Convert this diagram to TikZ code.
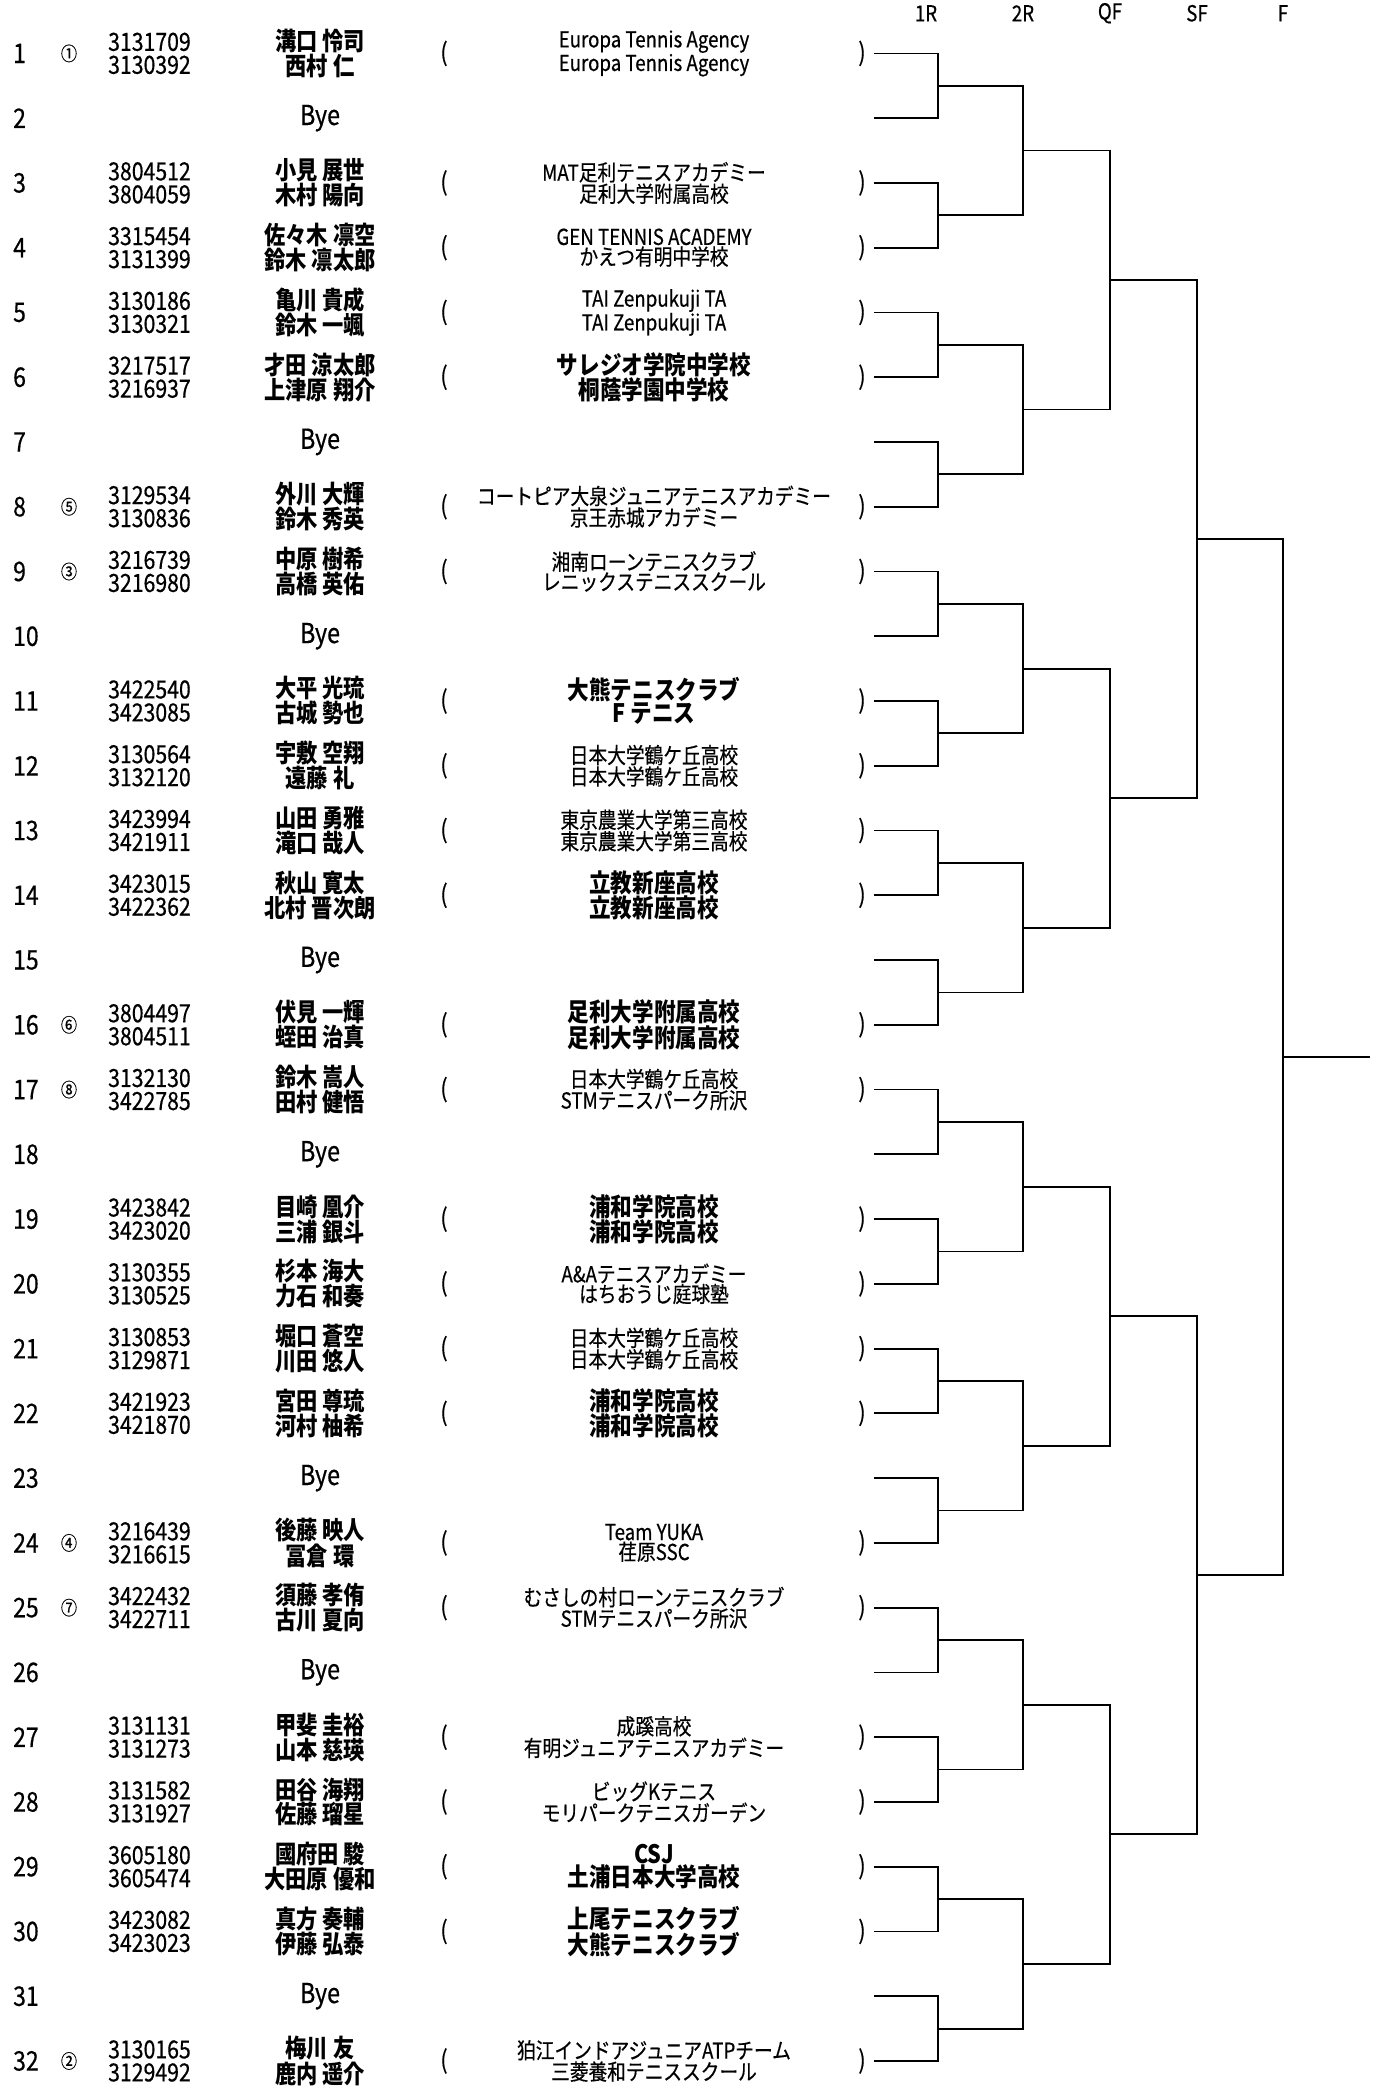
\documentclass[tikz,border=0pt]{standalone}
\usepackage{fontspec}
\setmainfont{Noto Sans CJK JP}[FakeStretch=0.85,UprightFeatures={FakeBold=0.5}]

\begin{document}
\begin{tikzpicture}[x=1pt,y=-64.76pt,
    every node/.style={inner sep=0pt},
    rownum/.style={anchor=west,font=\fontsize{27}{27}\selectfont},
    seed/.style={font=\fontsize{19}{19}\selectfont},
    ids/.style={anchor=west,align=left,font=\fontsize{25}{23}\selectfont},
    names/.style={align=center,font=\bfseries\fontsize{25}{23}\selectfont},
    bye/.style={font=\fontsize{27.5}{27}\selectfont},
    paren/.style={font=\fontsize{25}{25}\selectfont},
    club/.style={align=center,font=\fontsize{22}{20}\selectfont},
    bigclub/.style={align=center,font=\bfseries\fontsize{25.4}{23}\selectfont},
    rnd/.style={font=\fontsize{22}{22}\selectfont},
    bracket/.style={line width=1.8pt}]
    \useasboundingbox (0,0.1754) rectangle (1374,32.433);

    % round labels
    \node[rnd] (h1) at (926,0.38) {1R};
    \node[rnd] (h2) at (1023,0.38) {2R};
    \node[rnd] (h3) at (1110,0.38) {QF};
    \node[rnd] (h4) at (1197,0.38) {SF};
    \node[rnd] (h5) at (1283,0.38) {F};

    % 1
    \node[rownum] (n1) at (13,1) {1};
    \node[seed] (s1) at (69,1) {①};
    \node[ids] (id1) at (108,1) {3131709\\3130392};
    \node[names] (pl1) at (320,1) {溝口 怜司\\西村 仁};
    \node[paren] (lp1) at (444,1) {(};
    \node[club] (cl1) at (654,1) {Europa Tennis Agency\\Europa Tennis Agency};
    \node[paren] (rp1) at (862,1) {)};
    \coordinate (r1) at (874,1);
    % 2
    \node[rownum] (n2) at (13,2) {2};
    \node[bye] (bye2) at (320,2) {Bye};
    \coordinate (r2) at (874,2);
    % 3
    \node[rownum] (n3) at (13,3) {3};
    \node[ids] (id3) at (108,3) {3804512\\3804059};
    \node[names] (pl3) at (320,3) {小見 展世\\木村 陽向};
    \node[paren] (lp3) at (444,3) {(};
    \node[club] (cl3) at (654,3) {MAT足利テニスアカデミー\\足利大学附属高校};
    \node[paren] (rp3) at (862,3) {)};
    \coordinate (r3) at (874,3);
    % 4
    \node[rownum] (n4) at (13,4) {4};
    \node[ids] (id4) at (108,4) {3315454\\3131399};
    \node[names] (pl4) at (320,4) {佐々木 凛空\\鈴木 凛太郎};
    \node[paren] (lp4) at (444,4) {(};
    \node[club] (cl4) at (654,4) {GEN TENNIS ACADEMY\\かえつ有明中学校};
    \node[paren] (rp4) at (862,4) {)};
    \coordinate (r4) at (874,4);
    % 5
    \node[rownum] (n5) at (13,5) {5};
    \node[ids] (id5) at (108,5) {3130186\\3130321};
    \node[names] (pl5) at (320,5) {亀川 貴成\\鈴木 一颯};
    \node[paren] (lp5) at (444,5) {(};
    \node[club] (cl5) at (654,5) {TAI Zenpukuji TA\\TAI Zenpukuji TA};
    \node[paren] (rp5) at (862,5) {)};
    \coordinate (r5) at (874,5);
    % 6
    \node[rownum] (n6) at (13,6) {6};
    \node[ids] (id6) at (108,6) {3217517\\3216937};
    \node[names] (pl6) at (320,6) {才田 涼太郎\\上津原 翔介};
    \node[paren] (lp6) at (444,6) {(};
    \node[bigclub] (cl6) at (654,6) {サレジオ学院中学校\\桐蔭学園中学校};
    \node[paren] (rp6) at (862,6) {)};
    \coordinate (r6) at (874,6);
    % 7
    \node[rownum] (n7) at (13,7) {7};
    \node[bye] (bye7) at (320,7) {Bye};
    \coordinate (r7) at (874,7);
    % 8
    \node[rownum] (n8) at (13,8) {8};
    \node[seed] (s8) at (69,8) {⑤};
    \node[ids] (id8) at (108,8) {3129534\\3130836};
    \node[names] (pl8) at (320,8) {外川 大輝\\鈴木 秀英};
    \node[paren] (lp8) at (444,8) {(};
    \node[club] (cl8) at (654,8) {コートピア大泉ジュニアテニスアカデミー\\京王赤城アカデミー};
    \node[paren] (rp8) at (862,8) {)};
    \coordinate (r8) at (874,8);
    % 9
    \node[rownum] (n9) at (13,9) {9};
    \node[seed] (s9) at (69,9) {③};
    \node[ids] (id9) at (108,9) {3216739\\3216980};
    \node[names] (pl9) at (320,9) {中原 樹希\\高橋 英佑};
    \node[paren] (lp9) at (444,9) {(};
    \node[club] (cl9) at (654,9) {湘南ローンテニスクラブ\\レニックステニススクール};
    \node[paren] (rp9) at (862,9) {)};
    \coordinate (r9) at (874,9);
    % 10
    \node[rownum] (n10) at (13,10) {10};
    \node[bye] (bye10) at (320,10) {Bye};
    \coordinate (r10) at (874,10);
    % 11
    \node[rownum] (n11) at (13,11) {11};
    \node[ids] (id11) at (108,11) {3422540\\3423085};
    \node[names] (pl11) at (320,11) {大平 光琉\\古城 勢也};
    \node[paren] (lp11) at (444,11) {(};
    \node[bigclub] (cl11) at (654,11) {大熊テニスクラブ\\F テニス};
    \node[paren] (rp11) at (862,11) {)};
    \coordinate (r11) at (874,11);
    % 12
    \node[rownum] (n12) at (13,12) {12};
    \node[ids] (id12) at (108,12) {3130564\\3132120};
    \node[names] (pl12) at (320,12) {宇敷 空翔\\遠藤 礼};
    \node[paren] (lp12) at (444,12) {(};
    \node[club] (cl12) at (654,12) {日本大学鶴ケ丘高校\\日本大学鶴ケ丘高校};
    \node[paren] (rp12) at (862,12) {)};
    \coordinate (r12) at (874,12);
    % 13
    \node[rownum] (n13) at (13,13) {13};
    \node[ids] (id13) at (108,13) {3423994\\3421911};
    \node[names] (pl13) at (320,13) {山田 勇雅\\滝口 哉人};
    \node[paren] (lp13) at (444,13) {(};
    \node[club] (cl13) at (654,13) {東京農業大学第三高校\\東京農業大学第三高校};
    \node[paren] (rp13) at (862,13) {)};
    \coordinate (r13) at (874,13);
    % 14
    \node[rownum] (n14) at (13,14) {14};
    \node[ids] (id14) at (108,14) {3423015\\3422362};
    \node[names] (pl14) at (320,14) {秋山 寛太\\北村 晋次朗};
    \node[paren] (lp14) at (444,14) {(};
    \node[bigclub] (cl14) at (654,14) {立教新座高校\\立教新座高校};
    \node[paren] (rp14) at (862,14) {)};
    \coordinate (r14) at (874,14);
    % 15
    \node[rownum] (n15) at (13,15) {15};
    \node[bye] (bye15) at (320,15) {Bye};
    \coordinate (r15) at (874,15);
    % 16
    \node[rownum] (n16) at (13,16) {16};
    \node[seed] (s16) at (69,16) {⑥};
    \node[ids] (id16) at (108,16) {3804497\\3804511};
    \node[names] (pl16) at (320,16) {伏見 一輝\\蛭田 治真};
    \node[paren] (lp16) at (444,16) {(};
    \node[bigclub] (cl16) at (654,16) {足利大学附属高校\\足利大学附属高校};
    \node[paren] (rp16) at (862,16) {)};
    \coordinate (r16) at (874,16);
    % 17
    \node[rownum] (n17) at (13,17) {17};
    \node[seed] (s17) at (69,17) {⑧};
    \node[ids] (id17) at (108,17) {3132130\\3422785};
    \node[names] (pl17) at (320,17) {鈴木 嵩人\\田村 健悟};
    \node[paren] (lp17) at (444,17) {(};
    \node[club] (cl17) at (654,17) {日本大学鶴ケ丘高校\\STMテニスパーク所沢};
    \node[paren] (rp17) at (862,17) {)};
    \coordinate (r17) at (874,17);
    % 18
    \node[rownum] (n18) at (13,18) {18};
    \node[bye] (bye18) at (320,18) {Bye};
    \coordinate (r18) at (874,18);
    % 19
    \node[rownum] (n19) at (13,19) {19};
    \node[ids] (id19) at (108,19) {3423842\\3423020};
    \node[names] (pl19) at (320,19) {目崎 凰介\\三浦 銀斗};
    \node[paren] (lp19) at (444,19) {(};
    \node[bigclub] (cl19) at (654,19) {浦和学院高校\\浦和学院高校};
    \node[paren] (rp19) at (862,19) {)};
    \coordinate (r19) at (874,19);
    % 20
    \node[rownum] (n20) at (13,20) {20};
    \node[ids] (id20) at (108,20) {3130355\\3130525};
    \node[names] (pl20) at (320,20) {杉本 海大\\力石 和奏};
    \node[paren] (lp20) at (444,20) {(};
    \node[club] (cl20) at (654,20) {A\&Aテニスアカデミー\\はちおうじ庭球塾};
    \node[paren] (rp20) at (862,20) {)};
    \coordinate (r20) at (874,20);
    % 21
    \node[rownum] (n21) at (13,21) {21};
    \node[ids] (id21) at (108,21) {3130853\\3129871};
    \node[names] (pl21) at (320,21) {堀口 蒼空\\川田 悠人};
    \node[paren] (lp21) at (444,21) {(};
    \node[club] (cl21) at (654,21) {日本大学鶴ケ丘高校\\日本大学鶴ケ丘高校};
    \node[paren] (rp21) at (862,21) {)};
    \coordinate (r21) at (874,21);
    % 22
    \node[rownum] (n22) at (13,22) {22};
    \node[ids] (id22) at (108,22) {3421923\\3421870};
    \node[names] (pl22) at (320,22) {宮田 尊琉\\河村 柚希};
    \node[paren] (lp22) at (444,22) {(};
    \node[bigclub] (cl22) at (654,22) {浦和学院高校\\浦和学院高校};
    \node[paren] (rp22) at (862,22) {)};
    \coordinate (r22) at (874,22);
    % 23
    \node[rownum] (n23) at (13,23) {23};
    \node[bye] (bye23) at (320,23) {Bye};
    \coordinate (r23) at (874,23);
    % 24
    \node[rownum] (n24) at (13,24) {24};
    \node[seed] (s24) at (69,24) {④};
    \node[ids] (id24) at (108,24) {3216439\\3216615};
    \node[names] (pl24) at (320,24) {後藤 映人\\冨倉 環};
    \node[paren] (lp24) at (444,24) {(};
    \node[club] (cl24) at (654,24) {Team YUKA\\荏原SSC};
    \node[paren] (rp24) at (862,24) {)};
    \coordinate (r24) at (874,24);
    % 25
    \node[rownum] (n25) at (13,25) {25};
    \node[seed] (s25) at (69,25) {⑦};
    \node[ids] (id25) at (108,25) {3422432\\3422711};
    \node[names] (pl25) at (320,25) {須藤 孝侑\\古川 夏向};
    \node[paren] (lp25) at (444,25) {(};
    \node[club] (cl25) at (654,25) {むさしの村ローンテニスクラブ\\STMテニスパーク所沢};
    \node[paren] (rp25) at (862,25) {)};
    \coordinate (r25) at (874,25);
    % 26
    \node[rownum] (n26) at (13,26) {26};
    \node[bye] (bye26) at (320,26) {Bye};
    \coordinate (r26) at (874,26);
    % 27
    \node[rownum] (n27) at (13,27) {27};
    \node[ids] (id27) at (108,27) {3131131\\3131273};
    \node[names] (pl27) at (320,27) {甲斐 圭裕\\山本 慈瑛};
    \node[paren] (lp27) at (444,27) {(};
    \node[club] (cl27) at (654,27) {成蹊高校\\有明ジュニアテニスアカデミー};
    \node[paren] (rp27) at (862,27) {)};
    \coordinate (r27) at (874,27);
    % 28
    \node[rownum] (n28) at (13,28) {28};
    \node[ids] (id28) at (108,28) {3131582\\3131927};
    \node[names] (pl28) at (320,28) {田谷 海翔\\佐藤 瑠星};
    \node[paren] (lp28) at (444,28) {(};
    \node[club] (cl28) at (654,28) {ビッグKテニス\\モリパークテニスガーデン};
    \node[paren] (rp28) at (862,28) {)};
    \coordinate (r28) at (874,28);
    % 29
    \node[rownum] (n29) at (13,29) {29};
    \node[ids] (id29) at (108,29) {3605180\\3605474};
    \node[names] (pl29) at (320,29) {國府田 駿\\大田原 優和};
    \node[paren] (lp29) at (444,29) {(};
    \node[bigclub] (cl29) at (654,29) {CSJ\\土浦日本大学高校};
    \node[paren] (rp29) at (862,29) {)};
    \coordinate (r29) at (874,29);
    % 30
    \node[rownum] (n30) at (13,30) {30};
    \node[ids] (id30) at (108,30) {3423082\\3423023};
    \node[names] (pl30) at (320,30) {真方 奏輔\\伊藤 弘泰};
    \node[paren] (lp30) at (444,30) {(};
    \node[bigclub] (cl30) at (654,30) {上尾テニスクラブ\\大熊テニスクラブ};
    \node[paren] (rp30) at (862,30) {)};
    \coordinate (r30) at (874,30);
    % 31
    \node[rownum] (n31) at (13,31) {31};
    \node[bye] (bye31) at (320,31) {Bye};
    \coordinate (r31) at (874,31);
    % 32
    \node[rownum] (n32) at (13,32) {32};
    \node[seed] (s32) at (69,32) {②};
    \node[ids] (id32) at (108,32) {3130165\\3129492};
    \node[names] (pl32) at (320,32) {梅川 友\\鹿内 遥介};
    \node[paren] (lp32) at (444,32) {(};
    \node[club] (cl32) at (654,32) {狛江インドアジュニアATPチーム\\三菱養和テニススクール};
    \node[paren] (rp32) at (862,32) {)};
    \coordinate (r32) at (874,32);

    % bracket joins
    \coordinate (a1) at (938,1.5);   \coordinate (a2) at (938,3.5);
    \coordinate (a3) at (938,5.5);   \coordinate (a4) at (938,7.5);
    \coordinate (a5) at (938,9.5);   \coordinate (a6) at (938,11.5);
    \coordinate (a7) at (938,13.5);  \coordinate (a8) at (938,15.5);
    \coordinate (a9) at (938,17.5);  \coordinate (a10) at (938,19.5);
    \coordinate (a11) at (938,21.5); \coordinate (a12) at (938,23.5);
    \coordinate (a13) at (938,25.5); \coordinate (a14) at (938,27.5);
    \coordinate (a15) at (938,29.5); \coordinate (a16) at (938,31.5);

    \coordinate (b1) at (1023,2.5);  \coordinate (b2) at (1023,6.5);
    \coordinate (b3) at (1023,10.5); \coordinate (b4) at (1023,14.5);
    \coordinate (b5) at (1023,18.5); \coordinate (b6) at (1023,22.5);
    \coordinate (b7) at (1023,26.5); \coordinate (b8) at (1023,30.5);

    \coordinate (c1) at (1110,4.5);  \coordinate (c2) at (1110,12.5);
    \coordinate (c3) at (1110,20.5); \coordinate (c4) at (1110,28.5);

    \coordinate (d1) at (1197,8.5);  \coordinate (d2) at (1197,24.5);

    \coordinate (e1) at (1283,16.5);
    \coordinate (champ) at (1370,16.5);

    \draw[bracket] (r1) -| (a1) |- (r2);
    \draw[bracket] (r3) -| (a2) |- (r4);
    \draw[bracket] (r5) -| (a3) |- (r6);
    \draw[bracket] (r7) -| (a4) |- (r8);
    \draw[bracket] (r9) -| (a5) |- (r10);
    \draw[bracket] (r11) -| (a6) |- (r12);
    \draw[bracket] (r13) -| (a7) |- (r14);
    \draw[bracket] (r15) -| (a8) |- (r16);
    \draw[bracket] (r17) -| (a9) |- (r18);
    \draw[bracket] (r19) -| (a10) |- (r20);
    \draw[bracket] (r21) -| (a11) |- (r22);
    \draw[bracket] (r23) -| (a12) |- (r24);
    \draw[bracket] (r25) -| (a13) |- (r26);
    \draw[bracket] (r27) -| (a14) |- (r28);
    \draw[bracket] (r29) -| (a15) |- (r30);
    \draw[bracket] (r31) -| (a16) |- (r32);

    \draw[bracket] (a1) -| (b1) |- (a2);
    \draw[bracket] (a3) -| (b2) |- (a4);
    \draw[bracket] (a5) -| (b3) |- (a6);
    \draw[bracket] (a7) -| (b4) |- (a8);
    \draw[bracket] (a9) -| (b5) |- (a10);
    \draw[bracket] (a11) -| (b6) |- (a12);
    \draw[bracket] (a13) -| (b7) |- (a14);
    \draw[bracket] (a15) -| (b8) |- (a16);

    \draw[bracket] (b1) -| (c1) |- (b2);
    \draw[bracket] (b3) -| (c2) |- (b4);
    \draw[bracket] (b5) -| (c3) |- (b6);
    \draw[bracket] (b7) -| (c4) |- (b8);

    \draw[bracket] (c1) -| (d1) |- (c2);
    \draw[bracket] (c3) -| (d2) |- (c4);

    \draw[bracket] (d1) -| (e1) |- (d2);
    \draw[bracket] (e1) -- (champ);
\end{tikzpicture}
\end{document}
